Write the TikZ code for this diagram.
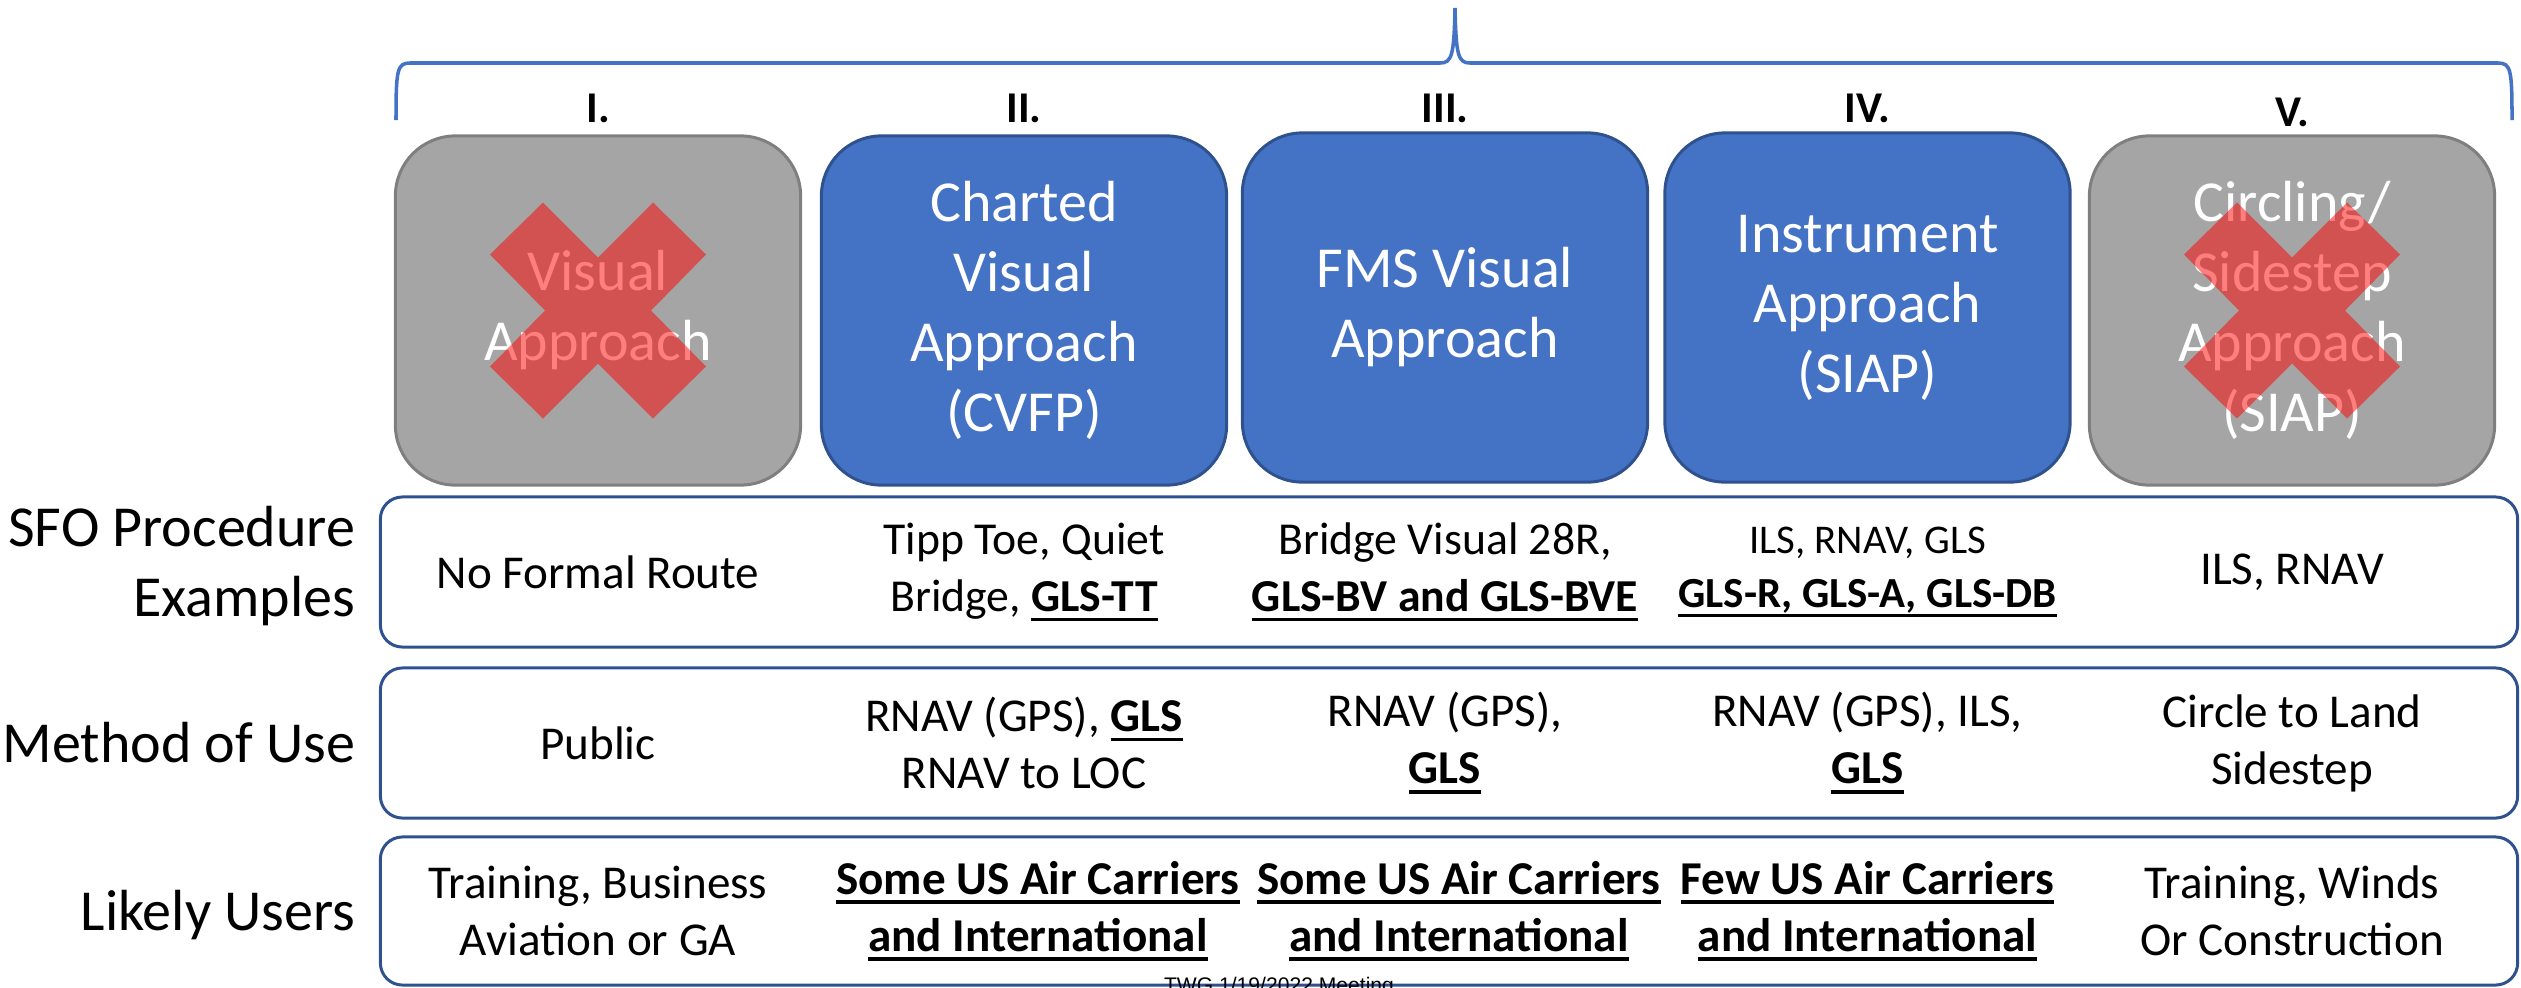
\documentclass[tikz,border=0pt]{standalone}
\usepackage{fontspec}
\setmainfont{Carlito}
\newfontfamily\footfont{Liberation Sans}
\usetikzlibrary{positioning}
\definecolor{boxblue}{HTML}{4472C4}
\definecolor{boxblueline}{HTML}{2F528F}
\definecolor{boxgray}{HTML}{A5A5A5}
\definecolor{boxgrayline}{HTML}{7F7F7F}
\newsavebox{\glsbox}
\newcommand{\glsul}[1]{\sbox{\glsbox}{\textbf{#1}}%
    \rlap{\rule[-2.8pt]{\wd\glsbox}{1pt}}\usebox{\glsbox}}

\begin{document}
\begin{tikzpicture}[x=0.01cm, y=-0.01cm,
    approach/.style={rounded corners=0.6cm, minimum width=4.05cm, minimum height=3.49cm,
        line width=0.85pt, text=white, align=center, font=\fontsize{16.5}{19.9}\selectfont},
    inuse/.style={approach, fill=boxblue, draw=boxblueline},
    dropped/.style={approach, fill=boxgray, draw=boxgrayline},
    rowbox/.style={draw=boxblueline, line width=0.85pt, rounded corners=0.22cm,
        minimum width=21.36cm, minimum height=1.5cm},
    cell/.style={align=center, font=\fontsize{13.4}{16.2}\selectfont},
    rowlabel/.style={align=right, inner sep=0pt, font=\fontsize{16.5}{19.9}\selectfont},
    numeral/.style={font=\bfseries\fontsize{12.5}{15}\selectfont}]
    \useasboundingbox (0,0) rectangle (2521,987);
    \clip (0,0) rectangle (2521,987);

    % 1. Brace over the five approach types
    \draw[boxblue, line width=1pt] (396,120) .. controls (396,70) and (397,63) .. (410,63)
        -- (1440,63) .. controls (1452,63) and (1454,55) .. (1455,8)
        .. controls (1456,55) and (1458,63) .. (1470,63)
        -- (2498,63) .. controls (2511,63) and (2512,70) .. (2512,120);

    % 2. Approach boxes and roman numerals
    \node[dropped] (boxI) at (598,310.5) {Visual\\Approach};
    \node[inuse] (boxII) at (1024,310.5) {Charted\\Visual\\Approach\\(CVFP)};
    \node[inuse] (boxIII) at (1445,307.5) {FMS Visual\\Approach};
    \node[inuse] (boxIV) at (1867.5,307.5) {Instrument\\Approach\\(SIAP)};
    \node[dropped] (boxV) at (2292,310.5) {Circling/\\Sidestep\\Approach\\(SIAP)};
    \foreach \b in {boxI, boxV}
        \fill[red, opacity=0.5, shift={(\b.center)}] (-55,-108) -- (0,-53) -- (55,-108)
            -- (108,-56) -- (53,0) -- (108,56) -- (55,108) -- (0,53) -- (-55,108)
            -- (-108,56) -- (-53,0) -- (-108,-56) -- cycle;

    \coordinate (numrow) at (0,108);
    \node[numeral] (numI) at (boxI |- numrow) {I.};
    \node[numeral] (numII) at (boxII |- numrow) {II.};
    \node[numeral] (numIII) at (boxIII |- numrow) {III.};
    \node[numeral] (numIV) at (boxIV |- numrow) {IV.};
    \node[numeral] (numV) at ([yshift=-0.04cm]boxV |- numrow) {V.};

    % 3. Rows of the table
    \node[rowbox] (row1) at (1449,572) {};
    \node[rowbox] (row2) at (1449,743) {};
    \node[rowbox, minimum height=1.48cm] (row3) at (1449,911) {};

    \node[rowlabel, left=0.23cm of row1, yshift=0.06cm] (lblex) {SFO Procedure\\Examples};
    \node[rowlabel, left=0.23cm of row2] (lbluse) {Method of Use};
    \node[rowlabel, left=0.23cm of row3, yshift=-0.04cm] (lblusers) {Likely Users};

    \node[cell] (ex1) at (boxI |- row1) {No Formal Route};
    \node[cell, font=\fontsize{13}{16.2}\selectfont] (ex2) at (boxII |- row1)
        {Tipp Toe, Quiet\\Bridge, \glsul{GLS-TT}};
    \node[cell, font=\fontsize{13}{16.2}\selectfont] (ex3) at (boxIII |- row1)
        {Bridge Visual 28R,\\\glsul{GLS-BV and GLS-BVE}};
    \node[cell, font=\fontsize{11.6}{15.5}\selectfont] (ex4) at (boxIV |- row1)
        {ILS, RNAV, GLS\\\fontsize{12.2}{15.5}\selectfont\glsul{GLS-R, GLS-A, GLS-DB}};
    \node[cell] (ex5) at (boxV |- row1) {ILS, RNAV};

    \node[cell] (use1) at (boxI |- row2) {Public};
    \node[cell] (use2) at (boxII |- row2) {RNAV (GPS), \glsul{GLS}\\RNAV to LOC};
    \node[cell] (use3) at (boxIII |- row2) {RNAV (GPS),\\\glsul{GLS}};
    \node[cell] (use4) at (boxIV |- row2) {RNAV (GPS), ILS,\\\glsul{GLS}};
    \node[cell] (use5) at (boxV |- row2) {Circle to Land\\Sidestep};

    \node[cell] (users1) at (boxI |- row3) {Training, Business\\Aviation or GA};
    \node[cell] (users2) at ([xshift=0.14cm]boxII |- row3)
        {\glsul{Some US Air Carriers}\\\glsul{and International}};
    \node[cell] (users3) at ([xshift=0.14cm]boxIII |- row3)
        {\glsul{Some US Air Carriers}\\\glsul{and International}};
    \node[cell] (users4) at (boxIV |- row3)
        {\glsul{Few US Air Carriers}\\\glsul{and International}};
    \node[cell] (users5) at (boxV |- row3) {Training, Winds\\Or Construction};

    % 4. Footer
    \node[anchor=base, inner sep=0pt, font=\footfont\fontsize{6}{7}\selectfont] (footer)
        at (1279,992) {TWG 1/19/2022 Meeting};
\end{tikzpicture}
\end{document}
